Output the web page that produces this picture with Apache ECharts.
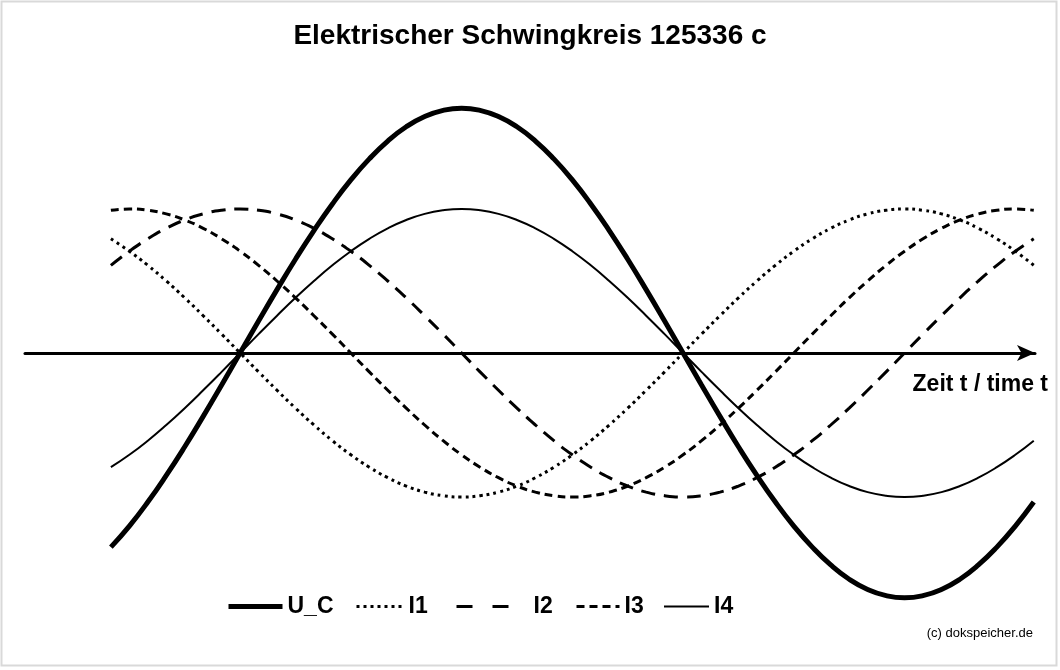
<!DOCTYPE html>
<html>
<head>
<meta charset="utf-8">
<script src="https://cdn.jsdelivr.net/npm/echarts@6/dist/echarts.min.js"></script>
<style>
  html, body { margin: 0; padding: 0; background: #fff; }
  #chart { width: 1060px; height: 670px; }
</style>
</head>
<body>
<div id="chart"></div>
<script>
  // Phasenwinkel (Grad) der Stützstellen
  var theta = [-52.5, -45, -37.5, -30, -22.5, -15, -7.5, 0, 7.5, 15, 22.5, 30, 37.5, 45, 52.5,
               60, 67.5, 75, 82.5, 90, 97.5, 105, 112.5, 120, 127.5, 135, 142.5, 150, 157.5, 165,
               172.5, 180, 187.5, 195, 202.5, 210, 217.5, 225, 232.5, 240, 247.5, 255, 262.5, 270,
               277.5, 285, 292.5, 300, 307.5, 315, 322.5];
  // Kondensatorspannung U_C
  var uC = [-1.348, -1.202, -1.035, -0.85, -0.651, -0.44, -0.222, 0, 0.222, 0.44, 0.651, 0.85, 1.035, 1.202, 1.348,
            1.472, 1.571, 1.642, 1.685, 1.7, 1.685, 1.642, 1.571, 1.472, 1.348, 1.202, 1.035, 0.85, 0.651, 0.44,
            0.222, 0, -0.222, -0.44, -0.651, -0.85, -1.035, -1.202, -1.348, -1.472, -1.571, -1.642, -1.685, -1.7,
            -1.685, -1.642, -1.571, -1.472, -1.348, -1.202, -1.035];
  // Ströme I1 .. I4
  var i1 = [0.793, 0.707, 0.609, 0.5, 0.383, 0.259, 0.131, 0, -0.131, -0.259, -0.383, -0.5, -0.609, -0.707, -0.793,
            -0.866, -0.924, -0.966, -0.991, -1, -0.991, -0.966, -0.924, -0.866, -0.793, -0.707, -0.609, -0.5, -0.383, -0.259,
            -0.131, 0, 0.131, 0.259, 0.383, 0.5, 0.609, 0.707, 0.793, 0.866, 0.924, 0.966, 0.991, 1,
            0.991, 0.966, 0.924, 0.866, 0.793, 0.707, 0.609];
  var i2 = [0.609, 0.707, 0.793, 0.866, 0.924, 0.966, 0.991, 1, 0.991, 0.966, 0.924, 0.866, 0.793, 0.707, 0.609,
            0.5, 0.383, 0.259, 0.131, 0, -0.131, -0.259, -0.383, -0.5, -0.609, -0.707, -0.793, -0.866, -0.924, -0.966,
            -0.991, -1, -0.991, -0.966, -0.924, -0.866, -0.793, -0.707, -0.609, -0.5, -0.383, -0.259, -0.131, 0,
            0.131, 0.259, 0.383, 0.5, 0.609, 0.707, 0.793];
  var i3 = [0.991, 1, 0.991, 0.966, 0.924, 0.866, 0.793, 0.707, 0.609, 0.5, 0.383, 0.259, 0.131, 0, -0.131,
            -0.259, -0.383, -0.5, -0.609, -0.707, -0.793, -0.866, -0.924, -0.966, -0.991, -1, -0.991, -0.966, -0.924, -0.866,
            -0.793, -0.707, -0.609, -0.5, -0.383, -0.259, -0.131, 0, 0.131, 0.259, 0.383, 0.5, 0.609, 0.707,
            0.793, 0.866, 0.924, 0.966, 0.991, 1, 0.991];
  var i4 = [-0.793, -0.707, -0.609, -0.5, -0.383, -0.259, -0.131, 0, 0.131, 0.259, 0.383, 0.5, 0.609, 0.707, 0.793,
            0.866, 0.924, 0.966, 0.991, 1, 0.991, 0.966, 0.924, 0.866, 0.793, 0.707, 0.609, 0.5, 0.383, 0.259,
            0.131, 0, -0.131, -0.259, -0.383, -0.5, -0.609, -0.707, -0.793, -0.866, -0.924, -0.966, -0.991, -1,
            -0.991, -0.966, -0.924, -0.866, -0.793, -0.707, -0.609];

  function pairs(vals) {
    return theta.map(function (t, k) { return [t, vals[k]]; });
  }

  function mkSeries(name, vals, width, type) {
    return {
      name: name,
      type: 'line',
      data: pairs(vals),
      smooth: true,
      symbol: 'none',
      showSymbol: false,
      lineStyle: { color: '#000', width: width, type: type },
      itemStyle: { color: '#000' },
      z: 3
    };
  }

  // eine Legende je Eintrag, damit die Abstände wie im Original sind
  function mkLegend(name, left, w, dash) {
    var ls = { width: 'inherit' };
    if (dash) ls.type = dash;
    return {
      data: [name],
      left: left,
      top: 595,
      padding: 0,
      itemWidth: w,
      itemHeight: 14,
      itemStyle: { opacity: 0 },
      lineStyle: ls,
      selectedMode: false,
      textStyle: { fontFamily: 'Liberation Sans', fontWeight: 'bold', fontSize: 23, color: '#000' }
    };
  }

  var myChart = echarts.init(document.getElementById('chart'));
  myChart.setOption({
    backgroundColor: '#fff',
    animation: false,
    title: {
      text: 'Elektrischer Schwingkreis 125336 c',
      left: 'center',
      top: 17,
      textStyle: { fontFamily: 'Liberation Sans', fontWeight: 'bold', fontSize: 28, color: '#000' }
    },
    legend: [
      mkLegend('U_C', 226, 54),
      mkLegend('I1', 355, 47),
      mkLegend('I2', 455, 72, [16, 20]),
      mkLegend('I3', 575, 43),
      mkLegend('I4', 663, 45)
    ],
    grid: { left: 25, right: 25, top: 65, height: 576 },
    xAxis: {
      type: 'value',
      min: -87.4,
      max: 323,
      axisLine: {
        show: true,
        onZero: true,
        symbol: ['none', 'arrow'],
        symbolSize: [12, 18],
        lineStyle: { color: '#000', width: 3 }
      },
      axisTick: { show: false },
      axisLabel: { show: false },
      splitLine: { show: false }
    },
    yAxis: {
      type: 'value',
      min: -2,
      max: 2,
      show: false
    },
    graphic: [
      {
        type: 'rect',
        shape: { x: 1.5, y: 1.5, width: 1055, height: 664 },
        style: { fill: 'none', stroke: '#d9d9d9', lineWidth: 2 },
        silent: true
      },
      {
        type: 'text',
        right: 12,
        top: 373,
        style: { text: 'Zeit t / time t', font: 'bold 23px "Liberation Sans"', fill: '#000' }
      },
      {
        type: 'text',
        right: 27,
        top: 627,
        style: { text: '(c) dokspeicher.de', font: '13px "Liberation Sans"', fill: '#000' }
      }
    ],
    series: [
      mkSeries('U_C', uC, 5, 'solid'),
      mkSeries('I1', i1, 3, [3, 4]),
      mkSeries('I2', i2, 3, [14, 9]),
      mkSeries('I3', i3, 3, [8, 5]),
      mkSeries('I4', i4, 2, 'solid')
    ]
  });
</script>
</body>
</html>
